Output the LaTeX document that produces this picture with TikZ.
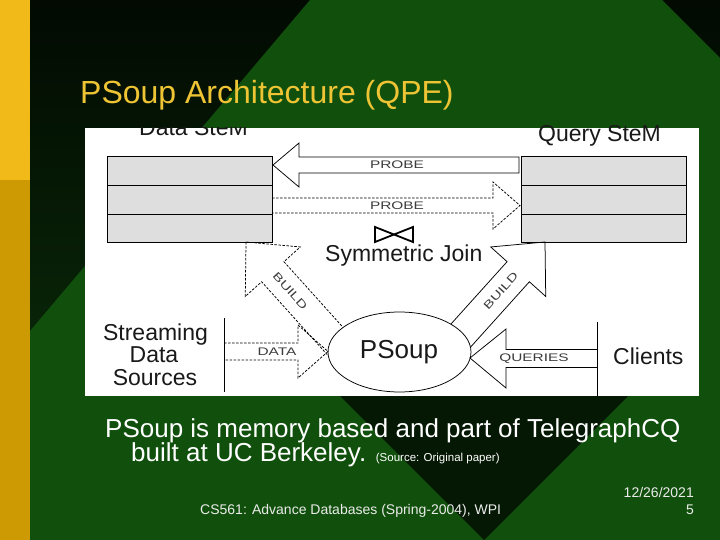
\documentclass[tikz,border=0pt]{standalone}
\usepackage{fontspec}
\setmainfont{Liberation Sans}
\usepackage{graphicx}
\usetikzlibrary{shapes.geometric}
\definecolor{bgtop}{RGB}{2,10,2}
\definecolor{bgbot}{RGB}{12,52,10}
\definecolor{slidegreen}{RGB}{17,80,12}
\definecolor{darktri}{RGB}{4,24,4}
\definecolor{ytop}{RGB}{242,186,24}
\definecolor{ybot}{RGB}{206,154,4}
\definecolor{titleyellow}{RGB}{238,196,52}
\definecolor{stemgray}{RGB}{222,222,222}
\definecolor{lblgray}{RGB}{60,60,60}
\definecolor{foot}{RGB}{235,235,235}
\newcommand\wlabel[1]{\scalebox{1.4}[1]{#1}}
\tikzset{
  stembox/.style={draw=black, line width=0.7pt, fill=stemgray, minimum width=165pt, inner sep=0pt, outer sep=0pt, anchor=north west},
  sline/.style={draw=black, line width=0.75pt},
  dline/.style={draw=black, line width=0.75pt, dash pattern=on 2.5pt off 1.5pt},
  big/.style={font=\fontsize{23}{27}\selectfont, text=black!90, inner sep=0pt},
  lbl/.style={font=\fontsize{11}{12}\selectfont, text=lblgray, inner sep=0pt},
}
\begin{document}
\begin{tikzpicture}[x=1pt,y=-1pt,line join=miter]
\useasboundingbox (0,0) rectangle (720,540);
% background
\shade[top color=bgtop, bottom color=bgbot] (0,0) rectangle (720,540);
\fill[slidegreen] (310,0) -- (662,0) -- (720,58) -- (720,540) -- (0,540) -- (0,366.4) -- cycle;
\fill[darktri] (484,540) -- (284,340) -- (684,340) -- cycle;
\fill[ytop] (0,0) rectangle (30,180);
\fill[ybot] (0,180) rectangle (30,540);
% title
\node[anchor=base west, text=titleyellow, font=\fontsize{32}{38}\selectfont, inner sep=0pt] (title) at (80,104) {PSoup Architecture (QPE)};
% white panel
\node[fill=white, minimum width=614pt, minimum height=268pt, anchor=north west, inner sep=0pt] (panel) at (85,128) {};
\begin{scope}
\clip (85,128) rectangle (699,396);
\node[big, anchor=base west] (dlabel) at (139,136) {Data SteM};
\end{scope}
\node[big, anchor=base west] (qlabel) at (538,142) {Query SteM};
% stems
\node[stembox, minimum height=29pt] (d1) at (107,156) {};
\node[stembox, minimum height=29pt] (d2) at (107,185) {};
\node[stembox, minimum height=28pt] (d3) at (107,214) {};
\node[stembox, minimum height=29pt] (q1) at (521,156) {};
\node[stembox, minimum height=29pt] (q2) at (521,185) {};
\node[stembox, minimum height=28pt] (q3) at (521,214) {};
% probe arrows
\draw[sline] (273,165) -- (299,143) -- (299,157) -- (519,157) -- (519,173) -- (299,173) -- (299,187) -- cycle;
\node[lbl] (probe1) at (397,165) {\wlabel{PROBE}};
\draw[dline] (272,198) -- (493,198) -- (493,182) -- (520,205.5) -- (493,229) -- (493,213) -- (272,213);
\node[lbl] (probe2) at (397,205.5) {\wlabel{PROBE}};
% symmetric join
\draw[line width=1.8pt, line join=miter] (375,227) -- (375,242) -- (413,227) -- (413,242) -- cycle;
\node[big, anchor=base west] (sj) at (325,261) {Symmetric Join};
% build arrows
\begin{scope}[shift={(246,242)}, rotate=-48]
\draw[dline] (0,0) -- (40,37) -- (40,15) -- (144,15) -- (144,-15) -- (40,-15) -- (40,-37) -- cycle;
\node[lbl, rotate=-48] (buildl) at (66,0) {\wlabel{BUILD}};
\end{scope}
\begin{scope}[shift={(545,242)}, rotate=-132]
\draw[sline] (0,0) -- (40,37) -- (40,15) -- (144,15) -- (144,-15) -- (40,-15) -- (40,-37) -- cycle;
\node[lbl, rotate=48] (buildr) at (66,0) {\wlabel{BUILD}};
\end{scope}
% psoup
\node[draw=black, line width=0.75pt, fill=white, ellipse, minimum width=143pt, minimum height=80pt, inner sep=0pt] (psoup) at (399.5,352) {};
\node[font=\fontsize{26}{30}\selectfont, text=black!90, anchor=base, inner sep=0pt] (psouptxt) at (399,358.5) {PSoup};
% data arrow
\draw[sline] (224,318) -- (224,392);
\draw[dline] (224,343) -- (298,343) -- (298,325) -- (328,351.5) -- (298,378) -- (298,360) -- (224,360);
\node[lbl] (data) at (277,351.5) {\wlabel{DATA}};
\node[big, anchor=base] (s1) at (155.5,340) {Streaming};
\node[big, anchor=base] (s2) at (154,362) {Data};
\node[big, anchor=base] (s3) at (155,385) {Sources};
% queries arrow
\draw[sline] (597,322) -- (597,396);
\draw[sline] (597,349.5) -- (506,349.5) -- (506,329) -- (470,358) -- (506,388) -- (506,367.5) -- (597,367.5);
\node[lbl] (queries) at (534,358.5) {\wlabel{QUERIES}};
\node[big, anchor=base west] (clients) at (613,364) {Clients};
% bottom text
\node[anchor=base west, text=white, font=\fontsize{26}{30}\selectfont, inner sep=0pt] (line1) at (105,437) {PSoup is memory based and part of TelegraphCQ};
\node[anchor=base west, text=white, font=\fontsize{26}{30}\selectfont, inner sep=0pt] (line2) at (131,461) {built at UC Berkeley. {\fontsize{11.5}{13}\selectfont (Source: Original paper)}};
\node[anchor=base west, text=foot, font=\fontsize{14}{16}\selectfont, inner sep=0pt] (footer) at (200,514) {CS561: Advance Databases (Spring-2004), WPI};
\node[anchor=base east, text=foot, font=\fontsize{14}{16}\selectfont, inner sep=0pt] (date) at (694,497) {12/26/2021};
\node[anchor=base east, text=foot, font=\fontsize{14}{16}\selectfont, inner sep=0pt] (page) at (694,514) {5};
\end{tikzpicture}
\end{document}
